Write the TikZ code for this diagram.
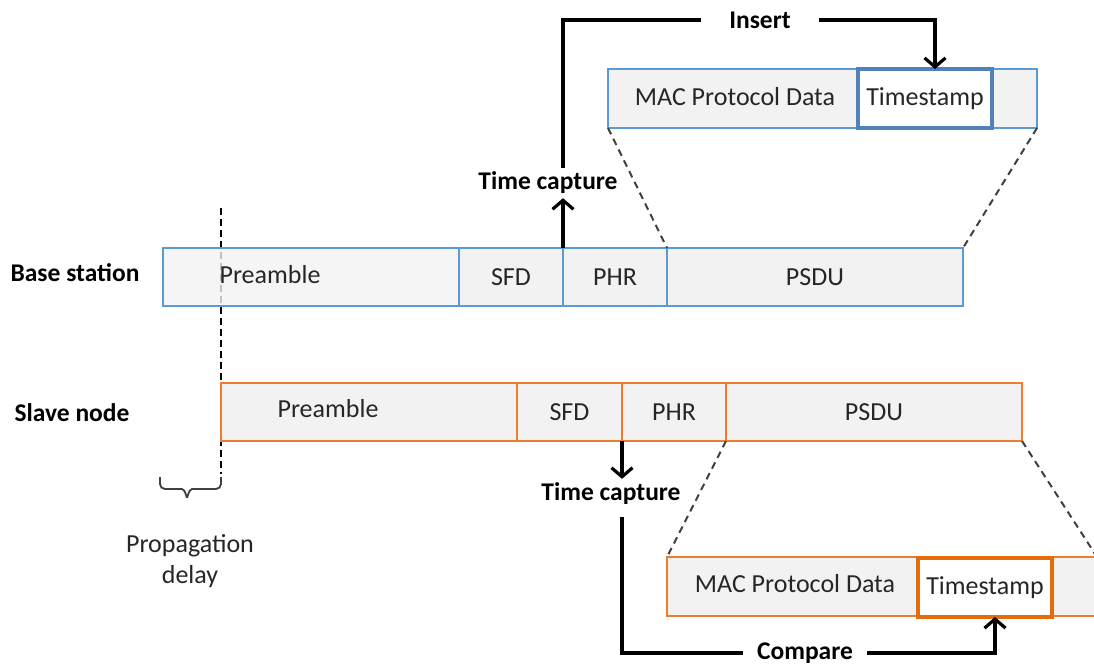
\documentclass[tikz,border=0pt]{standalone}
\usepackage{fontspec}
\setmainfont{Carlito}
\usetikzlibrary{arrows.meta}
\definecolor{bsblue}{HTML}{5B9BD5}
\definecolor{tsblue}{HTML}{4F81BD}
\definecolor{snor}{HTML}{ED7D31}
\definecolor{tsor}{HTML}{E46C0A}
\definecolor{barfill}{HTML}{F2F2F2}
\definecolor{dashgray}{HTML}{404040}
\definecolor{txt}{HTML}{262626}
\begin{document}
\begin{tikzpicture}[x=1pt,y=-1pt,
  font=\fontsize{26}{31}\selectfont,
  seg/.style={draw, fill=barfill, line width=1.6pt, minimum height=58pt,
    inner sep=0pt, outer sep=0pt, anchor=north west, text=txt},
  bseg/.style={seg, draw=bsblue},
  sseg/.style={seg, draw=snor},
  tsbox/.style={fill=white, line width=4.5pt, minimum width=134pt, minimum height=59pt,
    inner sep=0pt, outer sep=0pt, anchor=north west, text=txt},
  plain/.style={inner sep=2pt, text=txt},
  bold/.style={inner sep=2pt, font=\fontsize{25.5}{31}\selectfont\bfseries},
  conn/.style={line width=3.2pt, black},
  arr/.style={conn, -{Straight Barb[length=9pt,width=21pt,line width=3.2pt]}},
  zoomdash/.style={dashgray, line width=2pt, dash pattern=on 7pt off 5pt},
  vdash/.style={black, line width=1.6pt, dash pattern=on 7pt off 4pt},
  bracest/.style={dashgray, line width=1.8pt, line join=round}
]
\useasboundingbox (0,0) rectangle (1094,667);
\clip (0,0) rectangle (1094,667);

% propagation delay reference line (behind bars)
\draw[vdash] (221,208) -- (221,474);

% ---------------- Base station ----------------
\node[bold] (bslbl) at (75,273) {Base station};
\node[bseg, minimum width=296pt, fill opacity=0.8, text opacity=1] (bpre) at (163,248) {};
\node[bseg, minimum width=104pt] (bsfd) at (459,248) {SFD};
\node[bseg, minimum width=104pt] (bphr) at (563,248) {PHR};
\node[bseg, minimum width=296pt] (bpsdu) at (667,248) {PSDU};
\node[plain] (bpretxt) at (270,275) {Preamble};

% ---------------- Slave node ----------------
\node[bold] (snlbl) at (72,413) {Slave node};
\node[sseg, minimum width=296pt] (spre) at (221,383) {};
\node[sseg, minimum width=105pt] (ssfd) at (517,383) {SFD};
\node[sseg, minimum width=104pt] (sphr) at (622,383) {PHR};
\node[sseg, minimum width=296pt] (spsdu) at (726,383) {PSDU};
\node[plain] (spretxt) at (328,409) {Preamble};

% ---------------- Top MAC frame ----------------
\node[seg, draw=bsblue, minimum width=429pt, minimum height=59pt] (tmac) at (608,69) {};
\node[plain] (tmactxt) at (735,97) {MAC Protocol Data};
\node[tsbox, draw=tsblue] (tts) at (858,69) {Timestamp};

% ---------------- Bottom MAC frame ----------------
\node[seg, draw=snor, minimum width=430pt, minimum height=59pt] (bmac) at (667,557) {};
\node[plain] (bmactxt) at (795,584) {MAC Protocol Data};
\node[tsbox, draw=tsor] (bts) at (918,558) {Timestamp};

% zoom dashed lines
\draw[zoomdash] (tmac.south west) -- (bpsdu.north west);
\draw[zoomdash] (tmac.south east) -- (bpsdu.north east);
\draw[zoomdash] (spsdu.south west) -- (bmac.north west);
\draw[zoomdash] (spsdu.south east) -- (bmac.north east);

% ---------------- Time capture / Insert ----------------
\node[bold, inner sep=4pt] (tcap1) at (548,183) {Time capture};
\node[bold, inner xsep=28pt, inner ysep=6pt] (ins) at (760,20) {Insert};
\draw[arr] (bphr.north west) -- (bphr.north west |- tcap1.south);
\draw[conn] (bphr.north west |- tcap1.north) |- (ins.west);
\draw[arr] (ins.east) -| ([xshift=10pt]tts.north);

% ---------------- Time capture / Compare ----------------
\node[bold, inner sep=4pt] (tcap2) at (611,494) {Time capture};
\node[bold, inner xsep=14pt, inner ysep=4pt] (cmp) at (805,653) {Compare};
\draw[arr] (sphr.south west) -- (sphr.south west |- tcap2.north);
\draw[conn] (sphr.south west |- tcap2.south) ++(0,8) |- (cmp.west);
\draw[arr] (cmp.east) -| ([xshift=10pt]bts.south);

% ---------------- Propagation delay ----------------
\draw[bracest] (160,477) -- (160,484) to[out=90,in=180,looseness=0] (160,484)
  to[out=-90,in=180] (165,489) -- (182,489) to[out=0,in=-90] (187,497)
  to[out=-90,in=180] (192,489) -- (216,489) to[out=0,in=-90] (221,484) -- (221,477);
\node[plain, align=center] (pd) at (190,561) {Propagation\\delay};
\end{tikzpicture}
\end{document}
